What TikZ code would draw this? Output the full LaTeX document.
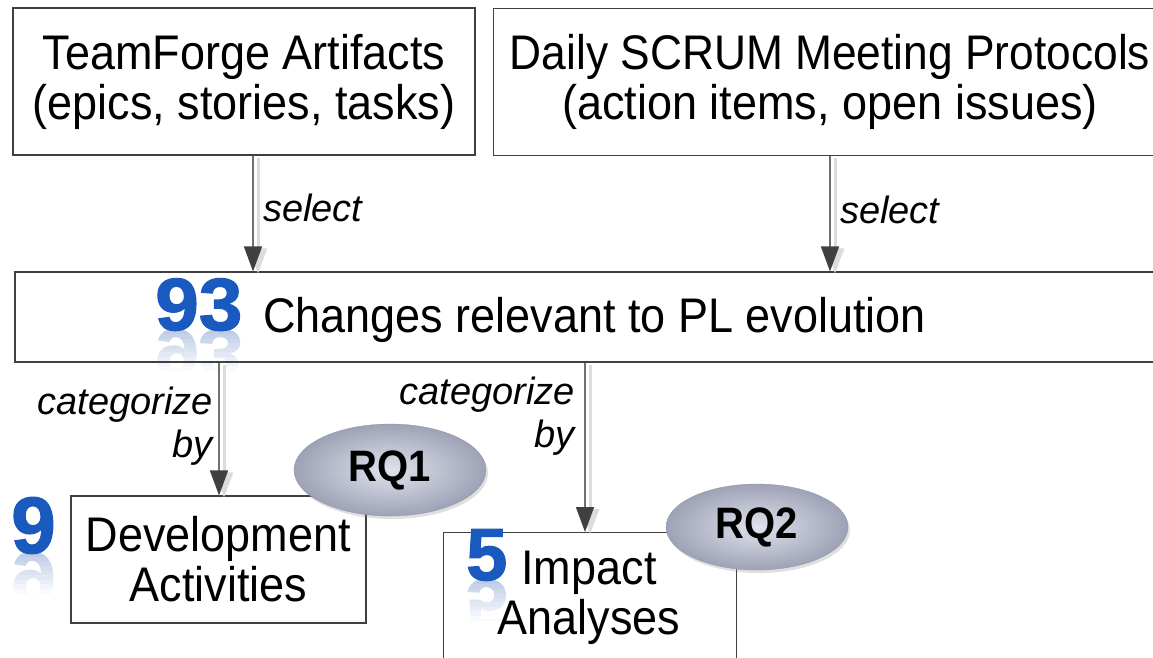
\documentclass[tikz,border=0pt]{standalone}
\usepackage{fontspec}
\setmainfont{Liberation Sans}
\newfontfamily\heavy[FakeBold=1.6]{Liberation Sans Bold}
\usetikzlibrary{arrows.meta,shapes.geometric,shadows}

\definecolor{boxline}{RGB}{64,64,64}
\definecolor{shaftgray}{RGB}{112,112,112}
\definecolor{headgray}{RGB}{64,64,64}
\definecolor{ghostgray}{RGB}{220,220,220}
\definecolor{numblue}{RGB}{26,90,190}
\definecolor{mirrorblue}{RGB}{150,174,214}
\definecolor{rqlight}{RGB}{224,226,236}
\definecolor{rqdark}{RGB}{158,162,182}

% slightly tall lettering
\newcommand{\tall}[1]{\scalebox{1}[1.08]{#1}}

\tikzset{
  srcbox/.style={draw=boxline, line width=1.1pt, inner sep=0pt},
  body/.style={font=\fontsize{45}{50}\selectfont, align=center, inner sep=0pt},
  verb/.style={font=\fontsize{38}{43}\selectfont\itshape, align=right, inner sep=0pt},
  flow/.style={draw=shaftgray, line width=1.5pt,
    -{Triangle[length=25pt,width=18pt,color=headgray]}},
  ghost/.style={draw=ghostgray, line width=3pt,
    -{Triangle[length=25pt,width=18pt,color=ghostgray]}},
  count/.style={font=\heavy, text=numblue, inner sep=0pt, anchor=base west},
  mirror/.style={font=\heavy, inner sep=0pt, anchor=base west, yscale=-0.9},
  rq/.style={ellipse, inner sep=0pt, shading=radial, inner color=rqlight, outer color=rqdark,
    draw=rqdark!90!black, line width=0.3pt, font=\fontsize{40}{40}\selectfont\bfseries,
    drop shadow={shadow xshift=2pt, shadow yshift=-3pt, opacity=0.25}}
}

% a mirrored count fading out in thin bands below its baseline
% #1 left x, #2 baseline y, #3 size, #4 horizontal stretch, #5 digits
\newcommand{\mirrored}[5]{%
  \foreach \band in {0,...,8}{%
    \pgfmathsetmacro{\tint}{62-7*\band}%
    \begin{scope}
      \clip (#1-8,#2+4.5*\band) rectangle (#1+110,#2+4.5*\band+4.5);
      \node[mirror, text=mirrorblue!\tint!white] at (#1,#2)
        {\fontsize{#3}{#3}\selectfont\scalebox{#4}[1]{#5}};
    \end{scope}}%
}

\begin{document}
\begin{tikzpicture}[x=1pt, y=-1pt]
\useasboundingbox (0,0) rectangle (1153,657);
\clip (0,0) rectangle (1153,657);

% columns of the connectors
\coordinate (colA) at (253,0);
\coordinate (colB) at (830,0);
\coordinate (colC) at (219,0);
\coordinate (colD) at (585,0);

% mirrored counts
\mirrored{155}{330}{74}{1.06}{93}
\mirrored{11}{553}{80}{1}{9}
\mirrored{466}{580}{74}{1}{5}

% boxes
\node[srcbox, body, minimum width=462pt, minimum height=147pt] (tf) at (244,81.5)
  {\tall{TeamForge Artifacts}\\\tall{(epics, stories, tasks)}};
\node[srcbox, minimum width=700pt, minimum height=147pt, anchor=north west] (sc) at (493,8) {};
\node[body] (sctext) at (830,81.5)
  {\scalebox{0.985}[1.08]{Daily SCRUM Meeting Protocols}\\\tall{(action items, open issues)}};
\node[srcbox, minimum width=1165pt, minimum height=90pt] (ch) at (597.5,317) {};
\node[body, anchor=base west] (chtext) at (263,332) {\tall{Changes relevant to PL evolution}};
\node[srcbox, body, minimum width=295pt, minimum height=127pt] (da) at (218.5,559.5)
  {\tall{Development}\\\tall{Activities}};
\node[srcbox, minimum width=293pt, minimum height=160pt, anchor=north west] (ia) at (443,532) {};
\node[body] (iatext) at (589,597.5) {\tall{Impact}\\\tall{Analyses}};

% connectors with their pale offset copies
\draw[ghost, transform canvas={xshift=5pt,yshift=-2pt}] (colA |- tf.south) -- (colA |- ch.north);
\draw[flow] (colA |- tf.south) -- (colA |- ch.north);
\draw[ghost, transform canvas={xshift=5pt,yshift=-2pt}] (colB |- sc.south) -- (colB |- ch.north);
\draw[flow] (colB |- sc.south) -- (colB |- ch.north);
\draw[ghost, transform canvas={xshift=5pt,yshift=-2pt}] (colC |- ch.south) -- (colC |- da.north);
\draw[flow] (colC |- ch.south) -- (colC |- da.north);
\draw[ghost, transform canvas={xshift=5pt,yshift=-2pt}] (colD |- ch.south) -- (colD |- ia.north);
\draw[flow] (colD |- ch.south) -- (colD |- ia.north);

% connector labels
\node[verb, anchor=base west] (sel1) at (263,221) {select};
\node[verb, anchor=base west] (sel2) at (840,223) {select};
\node[verb, anchor=east] (cat1) at (213,426) {categorize\\by};
\node[verb, anchor=east] (cat2) at (575,416) {categorize\\by};

% counts
\node[count] (n93) at (155,330) {\fontsize{74}{74}\selectfont\scalebox{1.06}[1]{93}};
\node[count] (n9) at (11,553) {\fontsize{80}{80}\selectfont 9};
\node[count] (n5) at (466,580) {\fontsize{74}{74}\selectfont 5};

% research questions
\node[rq, minimum width=192pt, minimum height=92pt] (rq1) at (390,470) {\scalebox{1}[1.1]{RQ1}};
\node[rq, minimum width=182pt, minimum height=86pt] (rq2) at (757,527) {\scalebox{1}[1.1]{RQ2}};
\end{tikzpicture}
\end{document}
